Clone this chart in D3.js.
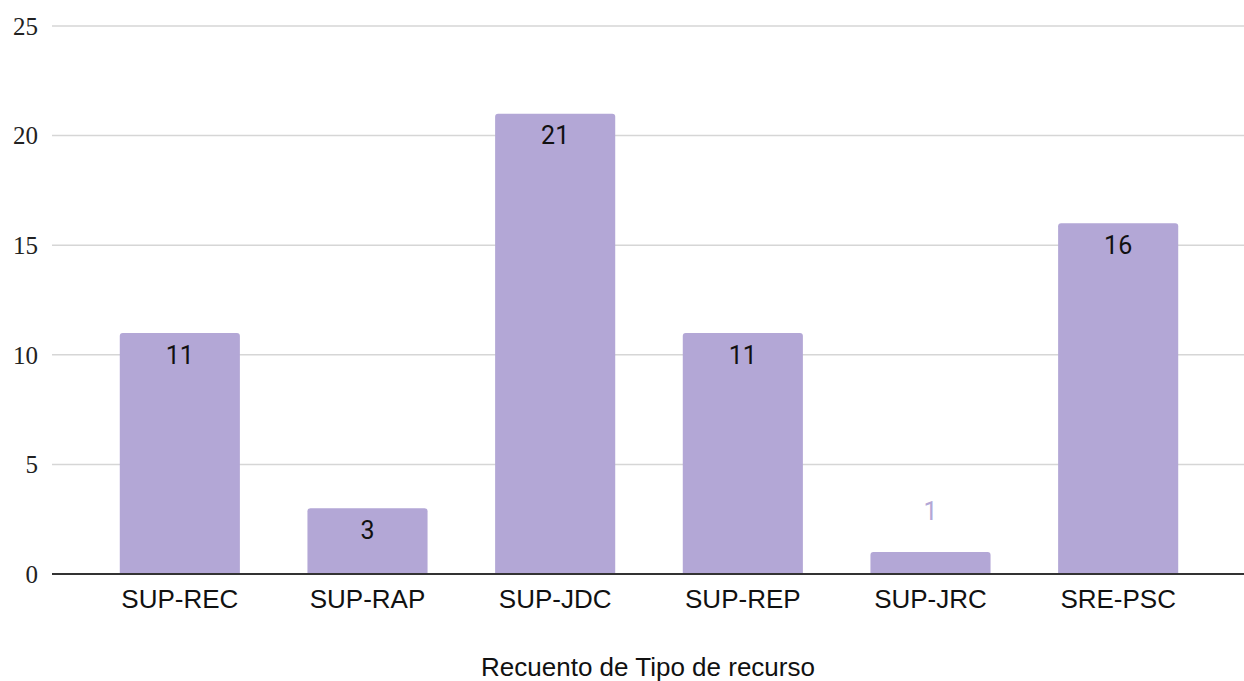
<!DOCTYPE html>
<html>
<head>
<meta charset="utf-8">
<script src="https://cdn.jsdelivr.net/npm/d3@7"></script>
<style>
  body { margin: 0; background: #fff; }
</style>
</head>
<body>
<div id="chart"></div>
<script>
const categories = ['SUP-REC', 'SUP-RAP', 'SUP-JDC', 'SUP-REP', 'SUP-JRC', 'SRE-PSC'];
const counts = [11, 3, 21, 11, 1, 16];
const yTicks = [0, 5, 10, 15, 20, 25];
const xTitle = 'Recuento de Tipo de recurso';

const WIDTH = 1244, HEIGHT = 681;
const BAR_COLOR = '#b3a7d6';

const svg = d3.select('#chart').append('svg')
  .attr('width', WIDTH)
  .attr('height', HEIGHT);

const x = d3.scaleBand()
  .domain(categories)
  .range([86, 1212])
  .paddingInner(0.36)
  .paddingOuter(0.18);

const y = d3.scaleLinear()
  .domain([0, 25])
  .range([574, 26]);

// grid
svg.append('g').selectAll('line').data(yTicks.filter(t => t > 0)).enter().append('line')
  .attr('x1', 52).attr('x2', WIDTH)
  .attr('y1', d => y(d)).attr('y2', d => y(d))
  .attr('stroke', '#d6d6d6')
  .attr('stroke-width', 1.5);

// y labels
svg.append('g').selectAll('text').data(yTicks).enter().append('text')
  .attr('x', 38)
  .attr('y', d => y(d))
  .attr('dy', '0.35em')
  .attr('text-anchor', 'end')
  .attr('font-family', '"Liberation Serif", serif')
  .attr('font-size', 25)
  .attr('fill', '#222')
  .text(d => d);

// bars, top corners rounded
const r = 3;
svg.append('g').selectAll('path').data(counts).enter().append('path')
  .attr('fill', BAR_COLOR)
  .attr('d', (d, i) => {
    const x0 = x(categories[i]), w = x.bandwidth();
    const y0 = y(d), y1 = y(0);
    return `M${x0},${y1}V${y0 + r}Q${x0},${y0} ${x0 + r},${y0}H${x0 + w - r}Q${x0 + w},${y0} ${x0 + w},${y0 + r}V${y1}Z`;
  });

// baseline
svg.append('line')
  .attr('x1', 52).attr('x2', WIDTH)
  .attr('y1', y(0)).attr('y2', y(0))
  .attr('stroke', '#333')
  .attr('stroke-width', 2);

// value labels
svg.append('g').selectAll('text').data(counts).enter().append('text')
  .attr('x', (d, i) => x(categories[i]) + x.bandwidth() / 2)
  .attr('y', d => (y(0) - y(d) > 40) ? y(d) + 22 : y(d) - 41)
  .attr('dy', '0.35em')
  .attr('text-anchor', 'middle')
  .attr('font-family', 'Roboto, sans-serif')
  .attr('font-size', 25)
  .attr('fill', d => (y(0) - y(d) > 40) ? '#111' : BAR_COLOR)
  .text(d => d);

// category labels
svg.append('g').selectAll('text').data(categories).enter().append('text')
  .attr('x', d => x(d) + x.bandwidth() / 2)
  .attr('y', 608)
  .attr('text-anchor', 'middle')
  .attr('font-family', '"Liberation Sans", Arial, sans-serif')
  .attr('font-size', 26)
  .attr('fill', '#111')
  .text(d => d);

// axis title
svg.append('text')
  .attr('x', 648)
  .attr('y', 676)
  .attr('text-anchor', 'middle')
  .attr('font-family', '"Liberation Sans", Arial, sans-serif')
  .attr('font-size', 26)
  .attr('fill', '#111')
  .text(xTitle);
</script>
</body>
</html>
